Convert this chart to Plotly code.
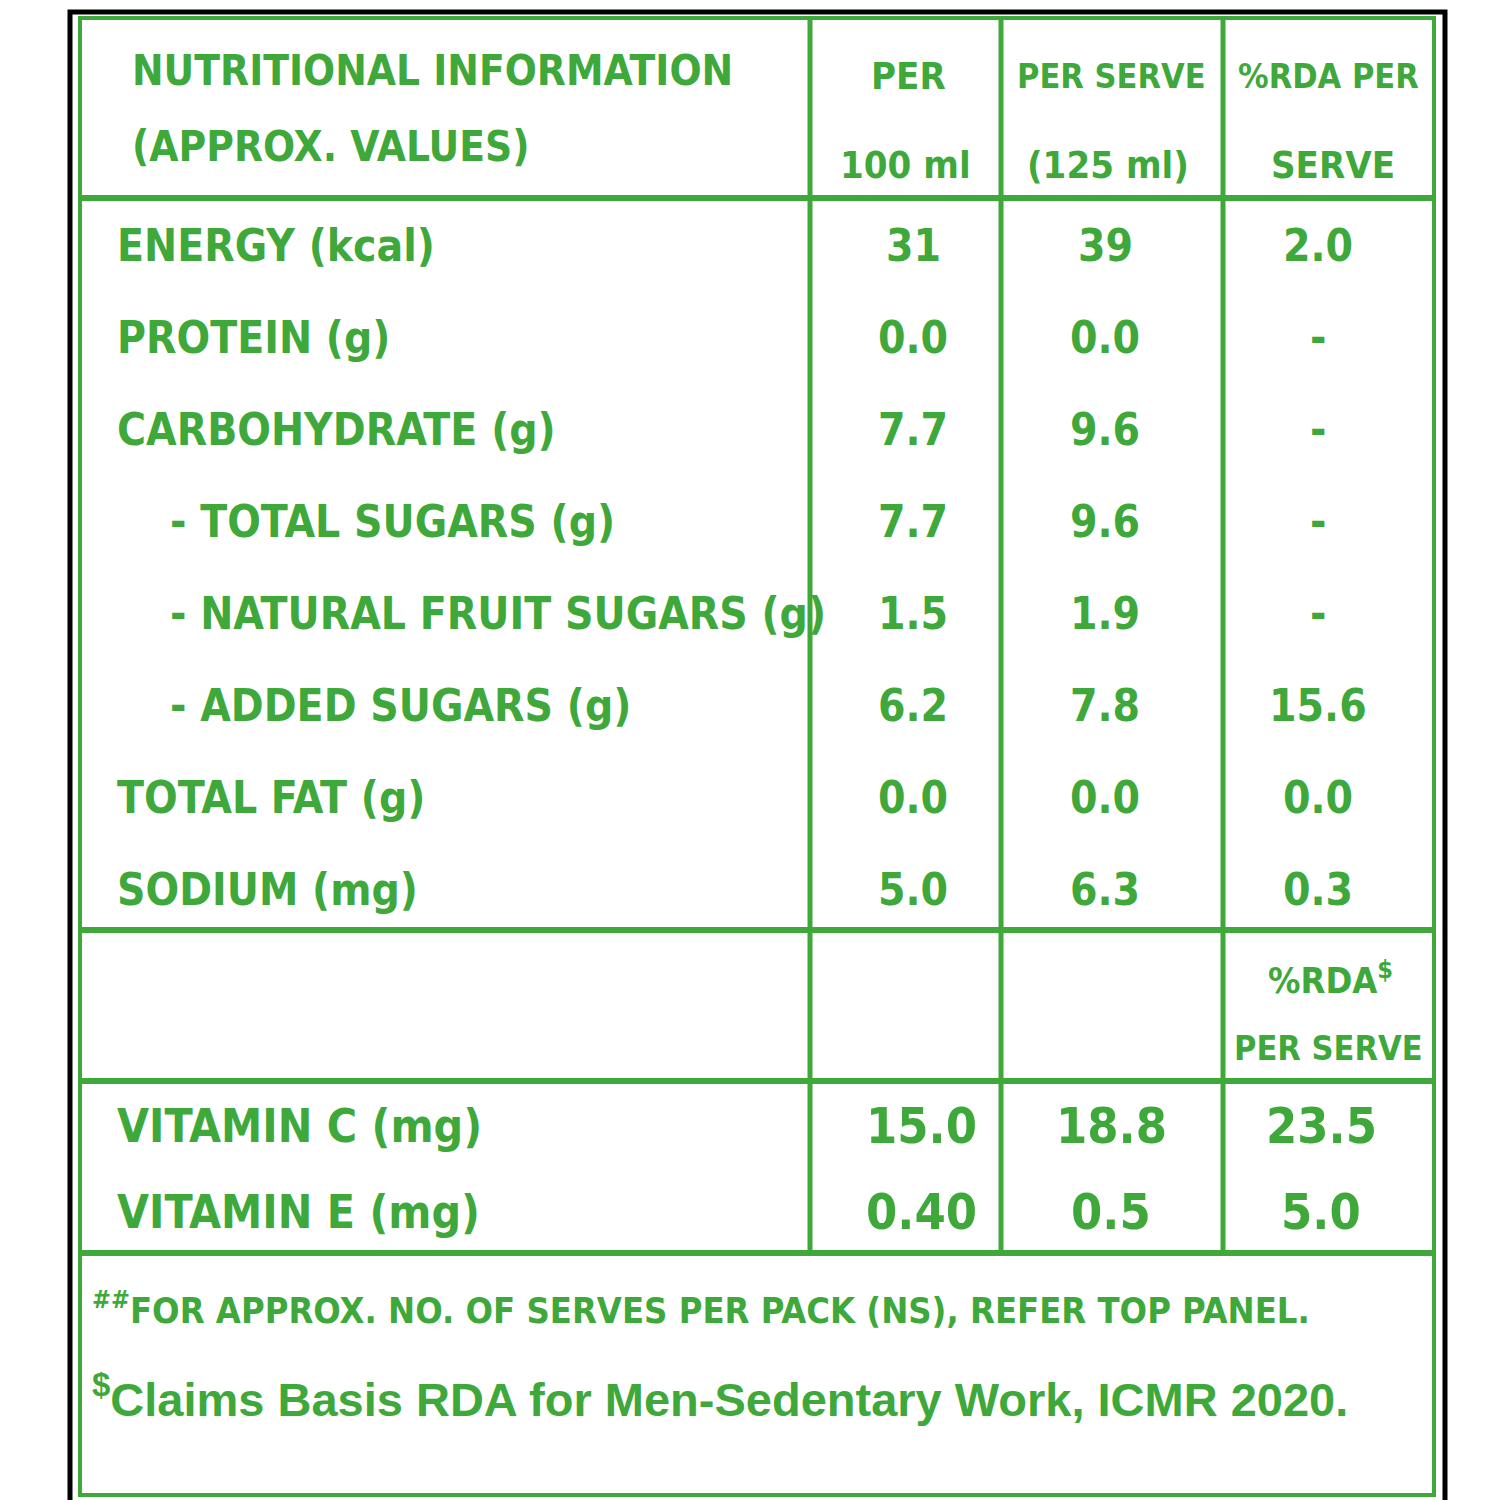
import plotly.graph_objects as go

GREEN = "#3fa83a"
FONT = "DejaVu Sans Condensed, Liberation Sans Narrow, sans-serif"

nutrients = ["ENERGY (kcal)", "PROTEIN (g)", "CARBOHYDRATE (g)", "- TOTAL SUGARS (g)",
             "- NATURAL FRUIT SUGARS (g)", "- ADDED SUGARS (g)", "TOTAL FAT (g)", "SODIUM (mg)"]
indent = [0, 0, 0, 1, 1, 1, 0, 0]
per100 = ["31", "0.0", "7.7", "7.7", "1.5", "6.2", "0.0", "5.0"]
perserve = ["39", "0.0", "9.6", "9.6", "1.9", "7.8", "0.0", "6.3"]
rda = ["2.0", "-", "-", "-", "-", "15.6", "0.0", "0.3"]

vitamins = ["VITAMIN C (mg)", "VITAMIN E (mg)"]
vit100 = ["15.0", "0.40"]
vitserve = ["18.8", "0.5"]
vitrda = ["23.5", "5.0"]

fig = go.Figure()
shapes = [
    dict(type="rect", x0=62, x1=1437, y0=4, y1=1497, line=dict(color="black", width=5),
         fillcolor="white", layer="below"),
    dict(type="rect", x0=72, x1=1426, y0=10, y1=1487, line=dict(color=GREEN, width=4)),
]
for x in [802, 993, 1215]:
    shapes.append(dict(type="line", x0=x, x1=x, y0=10, y1=1245, line=dict(color=GREEN, width=5)))
for y in [190, 922, 1073, 1245]:
    shapes.append(dict(type="line", x0=72, x1=1426, y0=y, y1=y, line=dict(color=GREEN, width=6)))

ann = []
def t(x, y, s, size=46, anchor="center", fam=FONT, bold=True):
    ann.append(dict(x=x, y=y, text=f"<b>{s}</b>" if bold else s, showarrow=False, xanchor=anchor,
                    yanchor="middle", font=dict(family=fam, size=size, color=GREEN)))

t(122, 62, "NUTRITIONAL INFORMATION", 42, "left")
t(122, 138, "(APPROX. VALUES)", 42, "left")
t(900, 68, "PER", 38); t(897, 157, "100 ml", 38)
t(1103, 68, "PER SERVE", 34); t(1100, 157, "(125 ml)", 38)
t(1320, 68, "%RDA PER", 34); t(1325, 157, "SERVE", 38)

for i, n in enumerate(nutrients):
    y = 237 + i * 92
    t(160 if indent[i] else 107, y, n, 44, "left")
    t(905, y, per100[i], 44); t(1097, y, perserve[i], 44); t(1310, y, rda[i], 44)

t(1322, 970, "%RDA<sup>$</sup>", 36); t(1320, 1040, "PER SERVE", 34)

for i, n in enumerate(vitamins):
    y = 1118 + i * 86
    t(107, y, n, 46, "left")
    t(913, y, vit100[i], 50); t(1103, y, vitserve[i], 50); t(1313, y, vitrda[i], 50)

t(82, 1300, "<sup>##</sup>FOR APPROX. NO. OF SERVES PER PACK (NS), REFER TOP PANEL.", 36, "left")
t(82, 1388, "<sup>$</sup>Claims Basis RDA for Men-Sedentary Work, ICMR 2020.", 47, "left",
  fam="Liberation Sans")

fig.update_layout(width=1500, height=1500, margin=dict(l=0, r=0, t=0, b=0),
                  paper_bgcolor="white", plot_bgcolor="white", shapes=shapes, annotations=ann,
                  xaxis=dict(range=[0, 1500], visible=False, fixedrange=True),
                  yaxis=dict(range=[1500, 0], visible=False, fixedrange=True), showlegend=False)
fig.write_html("out.html")
